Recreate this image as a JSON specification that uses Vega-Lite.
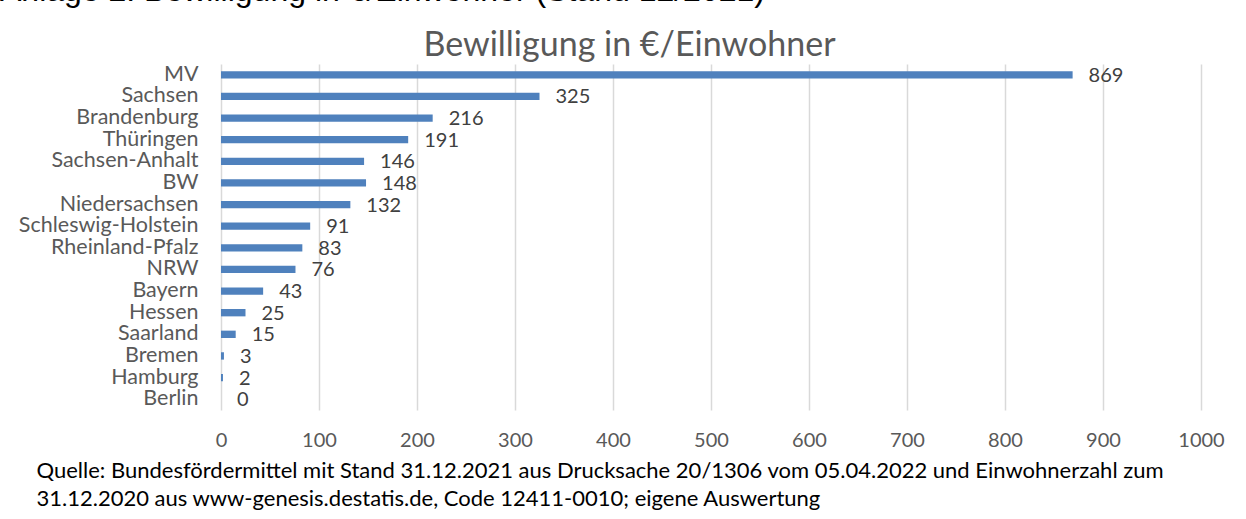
{
  "$schema": "https://vega.github.io/schema/vega-lite/v6.json",
  "width": 980,
  "height": 346,
  "autosize": {"type": "none"},
  "padding": {"left": 221, "top": 64, "right": 45, "bottom": 109},
  "background": "white",
  "config": {"view": {"stroke": null}},
  "title": {
    "text": "Anlage 2: Bewilligung in €/Einwohner (Stand 12/2021)",
    "anchor": "start",
    "frame": "group",
    "dx": -221,
    "offset": -5,
    "baseline": "alphabetic",
    "fontSize": 32,
    "font": "Liberation Sans",
    "fontWeight": "normal",
    "color": "#000000"
  },
  "data": {
    "values": [
      {"land": "MV", "wert": 869},
      {"land": "Sachsen", "wert": 325},
      {"land": "Brandenburg", "wert": 216},
      {"land": "Thüringen", "wert": 191},
      {"land": "Sachsen-Anhalt", "wert": 146},
      {"land": "BW", "wert": 148},
      {"land": "Niedersachsen", "wert": 132},
      {"land": "Schleswig-Holstein", "wert": 91},
      {"land": "Rheinland-Pfalz", "wert": 83},
      {"land": "NRW", "wert": 76},
      {"land": "Bayern", "wert": 43},
      {"land": "Hessen", "wert": 25},
      {"land": "Saarland", "wert": 15},
      {"land": "Bremen", "wert": 3},
      {"land": "Hamburg", "wert": 2},
      {"land": "Berlin", "wert": 0}
    ]
  },
  "encoding": {
    "y": {
      "field": "land",
      "type": "nominal",
      "sort": null,
      "scale": {"paddingInner": 0.66, "paddingOuter": 0.33},
      "axis": {
        "domain": false,
        "ticks": false,
        "labelPadding": 23,
        "labelLimit": 300,
        "labelFont": "Lato",
        "labelFontSize": 21.5,
        "labelColor": "#595959",
        "title": "Bewilligung in €/Einwohner",
        "titleAngle": 0,
        "titleAlign": "center",
        "titleBaseline": "alphabetic",
        "titleX": 408,
        "titleY": -9,
        "titleFont": "Lato",
        "titleFontSize": 34,
        "titleFontWeight": "normal",
        "titleColor": "#595959"
      }
    }
  },
  "layer": [
    {
      "mark": {"type": "bar", "color": "#4F81BD"},
      "encoding": {
        "x": {
          "field": "wert",
          "type": "quantitative",
          "scale": {"domain": [0, 1000], "nice": false},
          "axis": {
            "values": [0, 100, 200, 300, 400, 500, 600, 700, 800, 900, 1000],
            "format": "d",
            "domain": false,
            "ticks": false,
            "grid": true,
            "gridColor": "#d9d9d9",
            "gridWidth": 1.5,
            "labelPadding": 20,
            "labelFont": "Lato",
            "labelFontSize": 20,
            "labelColor": "#595959",
            "labelFlush": false,
            "title": [
              "Quelle: Bundesfördermittel mit Stand 31.12.2021 aus Drucksache 20/1306 vom 05.04.2022 und Einwohnerzahl zum",
              "31.12.2020 aus www-genesis.destatis.de, Code 12411-0010; eigene Auswertung"
            ],
            "titleAnchor": "start",
            "titleAlign": "left",
            "titleBaseline": "middle",
            "titleX": -185,
            "titleY": 60,
            "titleLineHeight": 28,
            "titleFont": "Lato",
            "titleFontSize": 22,
            "titleFontWeight": "normal",
            "titleColor": "#000000"
          }
        }
      }
    },
    {
      "mark": {"type": "text", "align": "left", "baseline": "middle", "dx": 16, "dy": 1, "font": "Lato", "fontSize": 20, "color": "#404040"},
      "encoding": {
        "x": {"field": "wert", "type": "quantitative"},
        "text": {"field": "wert", "type": "quantitative"}
      }
    }
  ]
}
